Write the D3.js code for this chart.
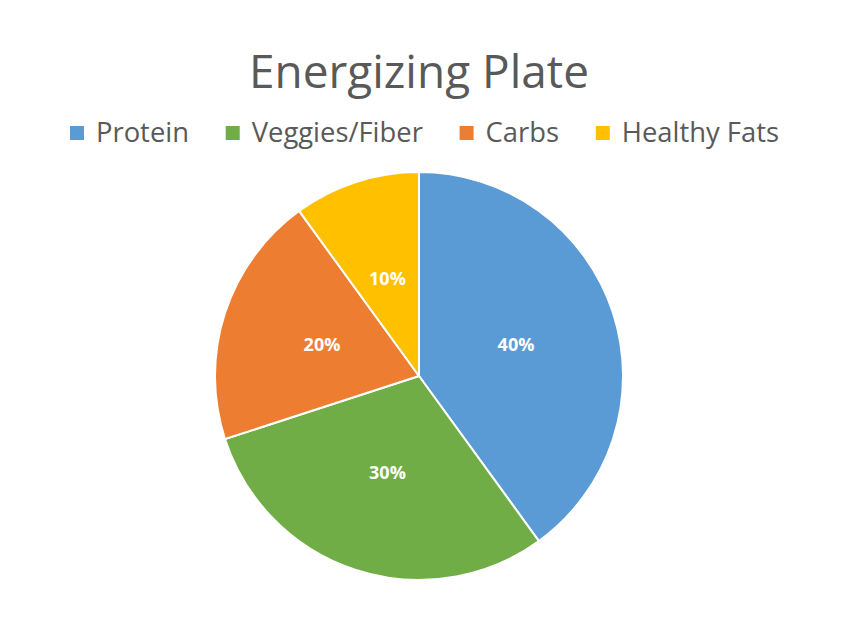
<!DOCTYPE html>
<html><head><meta charset="utf-8">
<script src="https://cdn.jsdelivr.net/npm/d3@7"></script>
<style>body{margin:0;background:#fff}</style>
</head><body>
<svg id="c" width="851" height="617"></svg>
<script>
const categories = ["Protein", "Veggies/Fiber", "Carbs", "Healthy Fats"];
const values = [40, 30, 20, 10];
const colors = ["#5B9BD5", "#70AD47", "#ED7D31", "#FFC000"];
const title = "Energizing Plate";

const svg = d3.select("#c");
const font = "'Open Sans', sans-serif";
const textColor = "#595959";

svg.append("rect").attr("width", 851).attr("height", 617).attr("fill", "#fff");

function fitSize(sel, base, target) {
  sel.attr("font-size", base);
  const w = sel.node().getComputedTextLength();
  sel.attr("font-size", base * target / w);
}

const tt = svg.append("text").attr("x", 419).attr("y", 88).attr("text-anchor", "middle")
  .attr("font-family", font).attr("fill", textColor).text(title);
fitSize(tt, 40, 340);

// legend
const probe = svg.append("text").attr("font-family", font).text(categories[0]);
fitSize(probe, 24, 93);
const legSize = +probe.attr("font-size");
probe.remove();

const lg = svg.append("g").attr("transform", "translate(70,142)");
const widths = categories.map(c => {
  const t = svg.append("text").attr("font-family", font).attr("font-size", legSize).text(c);
  const w = t.node().getComputedTextLength();
  t.remove();
  return w;
});
const legendWidth = 709;
const gap = (legendWidth - d3.sum(widths, w => 26 + w)) / (categories.length - 1);
let x = 0;
categories.forEach((c, i) => {
  const g = lg.append("g");
  g.append("rect").attr("x", x).attr("y", -16).attr("width", 14).attr("height", 14).attr("fill", colors[i]);
  g.append("text").attr("x", x + 26).attr("y", 0).attr("font-family", font)
    .attr("font-size", legSize).attr("fill", textColor).text(c);
  x += 26 + widths[i] + gap;
});

// pie
const cx = 419, cy = 376, r = 204;
const pie = d3.pie().sort(null).value(d => d)(values);
const arc = d3.arc().innerRadius(0).outerRadius(r);
const labelArc = d3.arc().innerRadius(r * 0.5).outerRadius(r * 0.5);
const pg = svg.append("g").attr("transform", `translate(${cx},${cy})`);
pg.selectAll("path").data(pie).join("path")
  .attr("d", arc).attr("fill", (d, i) => colors[i])
  .attr("stroke", "#fff").attr("stroke-width", 2).attr("stroke-linejoin", "round");
pg.selectAll("text").data(pie).join("text")
  .attr("transform", d => `translate(${labelArc.centroid(d)})`)
  .attr("text-anchor", "middle").attr("dy", "0.35em")
  .attr("font-family", font).attr("font-weight", "bold").attr("font-size", 18)
  .attr("fill", "#fff").text(d => d.data + "%");
</script>
</body></html>
